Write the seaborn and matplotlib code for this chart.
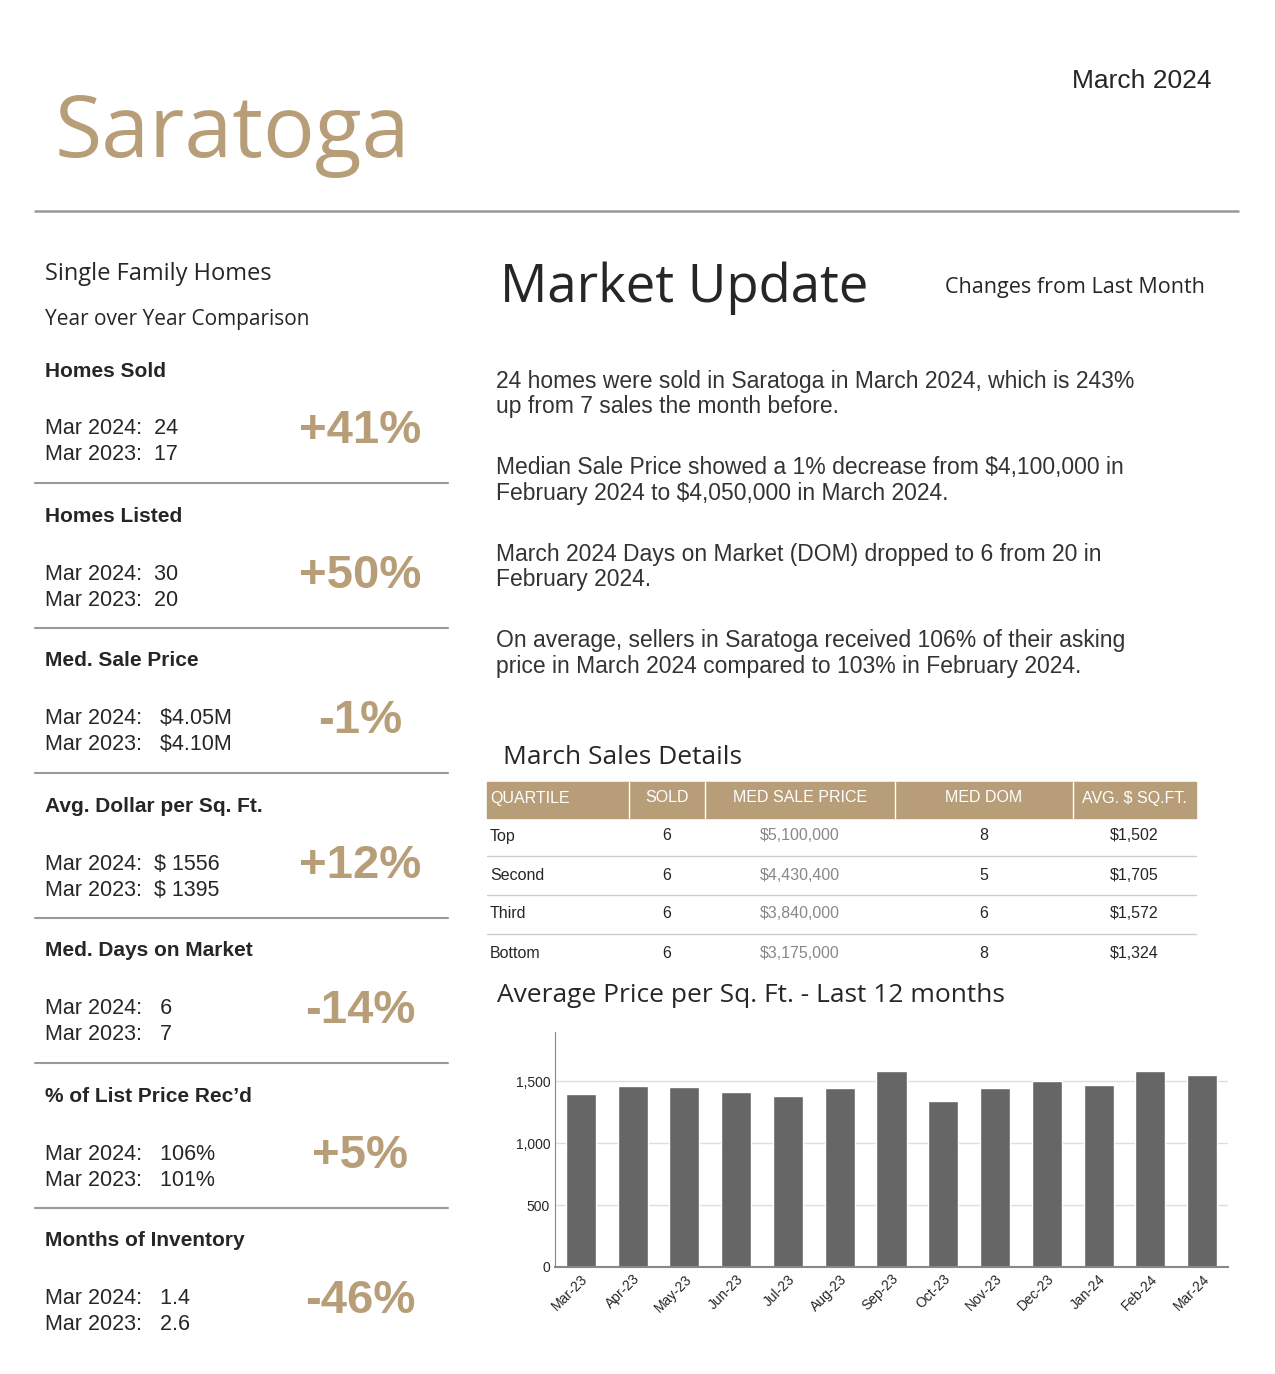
import matplotlib
matplotlib.use("Agg")
import matplotlib.pyplot as plt
import seaborn as sns
import pandas as pd

W, H = 1275, 1374
GOLD = "#b89e78"

months = ["Mar-23", "Apr-23", "May-23", "Jun-23", "Jul-23", "Aug-23", "Sep-23",
          "Oct-23", "Nov-23", "Dec-23", "Jan-24", "Feb-24", "Mar-24"]
price_sqft = [1401, 1465, 1457, 1417, 1385, 1449, 1586, 1344, 1449, 1505, 1473, 1586, 1556]

stat_titles = ["Homes Sold", "Homes Listed", "Med. Sale Price", "Avg. Dollar per Sq. Ft.",
               "Med. Days on Market", "% of List Price Rec\u2019d", "Months of Inventory"]
stat_2024 = ["24", "30", " $4.05M", "$ 1556", " 6", " 106%", " 1.4"]
stat_2023 = ["17", "20", " $4.10M", "$ 1395", " 7", " 101%", " 2.6"]
stat_change = ["+41%", "+50%", "-1%", "+12%", "-14%", "+5%", "-46%"]

q_cols = ["QUARTILE", "SOLD", "MED SALE PRICE", "MED DOM", "AVG. $ SQ.FT."]
q_names = ["Top", "Second", "Third", "Bottom"]
q_sold = ["6", "6", "6", "6"]
q_price = ["$5,100,000", "$4,430,400", "$3,840,000", "$3,175,000"]
q_dom = ["8", "5", "6", "8"]
q_sqft = ["$1,502", "$1,705", "$1,572", "$1,324"]

paragraphs = [
    "24 homes were sold in Saratoga in March 2024, which is 243%\nup from 7 sales the month before.",
    "Median Sale Price showed a 1% decrease from $4,100,000 in\nFebruary 2024 to $4,050,000 in March 2024.",
    "March 2024 Days on Market (DOM) dropped to 6 from 20 in\nFebruary 2024.",
    "On average, sellers in Saratoga received 106% of their asking\nprice in March 2024 compared to 103% in February 2024.",
]

sns.set_style("white")
plt.rcParams["font.family"] = ["Liberation Sans", "DejaVu Sans"]
fig = plt.figure(figsize=(W / 100, H / 100), dpi=100)


def t(x, y, s, **kw):
    kw.setdefault("va", "center")
    fig.text(x / W, 1 - y / H, s, **kw)


def hline(x0, x1, y, color="#999999", lw=1.5):
    fig.add_artist(plt.Line2D([x0 / W, x1 / W], [1 - y / H, 1 - y / H], color=color, lw=lw))


t(1211, 81, "March 2024", ha="right", fontsize=19)
t(55, 135, "Saratoga", fontsize=62, color=GOLD, family="Open Sans")
hline(35, 1238, 211, lw=1.8)

t(45, 274, "Single Family Homes", fontsize=17, family="Open Sans")
t(45, 320, "Year over Year Comparison", fontsize=15, family="Open Sans")

top = 371
step = 145
for i in range(7):
    y0 = top + i * step
    t(45, y0, stat_titles[i], fontsize=15, weight="bold")
    t(45, y0 + 58, "Mar 2024:  " + stat_2024[i], fontsize=15.5)
    t(45, y0 + 84, "Mar 2023:  " + stat_2023[i], fontsize=15.5)
    t(360, y0 + 60, stat_change[i], fontsize=34, weight="bold", color=GOLD, ha="center")
    if i < 6:
        hline(35, 448, y0 + 112)

t(500, 288, "Market Update", fontsize=38, family="Open Sans")
t(1205, 287, "Changes from Last Month", fontsize=15.5, ha="right", family="Open Sans")
for k, p in enumerate(paragraphs):
    t(496, 394 + k * 86.5, p, fontsize=16.5, color="#333333", linespacing=1.15)

# table
t(503, 757, "March Sales Details", fontsize=19, family="Open Sans")
col_edges = [487, 629, 705, 895, 1073, 1196]
fig.add_artist(plt.Rectangle((487 / W, 1 - 818 / H), (1196 - 487) / W, 36 / H, color=GOLD))
for e in col_edges[1:-1]:
    fig.add_artist(plt.Line2D([e / W, e / W], [1 - 818 / H, 1 - 782 / H], color="white", lw=1))
centers = [(a + b) / 2 for a, b in zip(col_edges[:-1], col_edges[1:])]
for j, c in enumerate(q_cols):
    if j == 0:
        t(490, 798, c, fontsize=11.5, color="white")
    else:
        t(centers[j], 798, c, fontsize=11.5, color="white", ha="center")
for r in range(4):
    y = 836 + r * 39
    t(490, y, q_names[r], fontsize=11.5)
    t(centers[1], y, q_sold[r], fontsize=11.5, ha="center")
    t(centers[2], y, q_price[r], fontsize=11.5, ha="center", color="#888888")
    t(centers[3], y, q_dom[r], fontsize=11.5, ha="center")
    t(centers[4], y, q_sqft[r], fontsize=11.5, ha="center")
    if r < 3:
        hline(487, 1196, y + 20, color="#cccccc", lw=1)

t(497, 995, "Average Price per Sq. Ft. - Last 12 months", fontsize=19, family="Open Sans")

# bar chart
ax = fig.add_axes([555 / W, 1 - 1267 / H, (1228 - 555) / W, (1267 - 1032) / H])
df = pd.DataFrame({"month": months, "value": price_sqft})
sns.barplot(data=df, x="month", y="value", color="#666666", width=0.58, ax=ax, saturation=1)
ax.set_ylim(0, 1900)
ax.set_yticks([0, 500, 1000, 1500])
ax.set_yticklabels(["0", "500", "1,000", "1,500"], fontsize=10)
ax.yaxis.grid(True, color="#dddddd", lw=1)
ax.set_axisbelow(True)
ax.set_xlabel("")
ax.set_ylabel("")
ax.tick_params(axis="x", labelsize=10, rotation=45, length=0)
ax.tick_params(axis="y", length=0)
for lab in ax.get_xticklabels():
    lab.set_ha("right")
    lab.set_rotation_mode("anchor")
sns.despine(ax=ax, top=True, right=True)
ax.spines["left"].set_color("#888888")
ax.spines["bottom"].set_color("#888888")
ax.spines["bottom"].set_linewidth(1.5)

fig.savefig("out.png", dpi=100)
